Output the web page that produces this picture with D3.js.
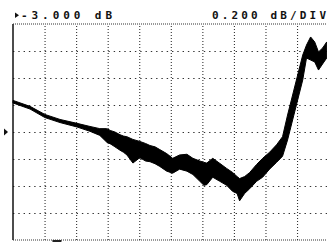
<!DOCTYPE html>
<html>
<head>
<meta charset="utf-8">
<script src="https://cdn.jsdelivr.net/npm/d3@7"></script>
<style>
  html, body { margin: 0; padding: 0; background: #fff; }
  #chart { width: 327px; height: 242px; overflow: hidden; }
  .hdr { font-family: "DejaVu Sans Mono", monospace; font-size: 11px; font-weight: bold; fill: #111; }
</style>
</head>
<body>
<div id="chart"></div>
<script>
const width  = 327;
const height = 242;

// reference level and scale, as printed on the screen
const refLevel = -3.0;      // dB, at the marker (centre line)
const dbPerDiv = 0.2;
const refText = "-3.000 dB";
const scaleText = "0.200 dB/DIV";

// horizontal position of each reading, in divisions (0..10)
const traceDiv = [0, 0.54, 1.01, 1.49, 2.03, 2.44, 2.75, 2.97, 3.10, 3.23, 3.39, 3.50, 3.61, 3.80,
  4.02, 4.20, 4.34, 4.50, 4.65, 4.87, 5.06, 5.28, 5.51, 5.70, 5.92, 6.05, 6.14, 6.33, 6.55, 6.77, 6.96,
  7.10, 7.18, 7.34, 7.50, 7.72, 7.91, 8.13, 8.35, 8.54, 8.70, 8.86, 9.02, 9.18, 9.30, 9.43,
  9.56, 9.68, 9.81, 9.94];
// upper and lower edge of the noisy trace, dB
const traceHi = [-2.766, -2.810, -2.870, -2.907, -2.936, -2.959, -2.975, -2.975, -2.990, -3.000, -3.020, -3.030, -3.035, -3.055,
  -3.070, -3.085, -3.100, -3.110, -3.130, -3.160, -3.195, -3.170, -3.165, -3.195, -3.215, -3.225, -3.230, -3.195, -3.232, -3.270, -3.300,
  -3.330, -3.345, -3.330, -3.300, -3.240, -3.195, -3.150, -3.095, -3.035, -2.874, -2.726, -2.578, -2.430, -2.356, -2.296,
  -2.333, -2.407, -2.378, -2.333];
const traceLo = [-2.785, -2.830, -2.893, -2.930, -2.963, -2.995, -3.025, -3.075, -3.090, -3.110, -3.135, -3.150, -3.170, -3.230,
  -3.190, -3.215, -3.220, -3.235, -3.255, -3.290, -3.305, -3.275, -3.290, -3.315, -3.365, -3.395, -3.390, -3.335, -3.365, -3.395, -3.440,
  -3.455, -3.510, -3.455, -3.420, -3.365, -3.335, -3.275, -3.225, -3.180, -3.059, -2.911, -2.763, -2.615, -2.452, -2.467,
  -2.481, -2.541, -2.496, -2.452];

const x = d3.scaleLinear().domain([0, 10]).range([13, 328.6]);
const y = d3.scaleLinear()
    .domain([refLevel - 4 * dbPerDiv, refLevel + 4 * dbPerDiv])
    .range([240, 24]);

const svg = d3.select("#chart").append("svg")
    .attr("width", width)
    .attr("height", height);

// dotted graticule
const gx = svg.append("g")
    .attr("transform", "translate(0," + y.range()[0] + ")")
    .call(d3.axisBottom(x).tickValues(d3.range(1, 10)).tickSize(-(y.range()[0] - y.range()[1])).tickFormat(""));
gx.select(".domain").remove();
gx.selectAll("line")
    .attr("stroke", "#333")
    .attr("stroke-width", 1.1)
    .attr("stroke-dasharray", "1,2");

const gy = svg.append("g")
    .attr("transform", "translate(" + x.range()[0] + ",0)")
    .call(d3.axisLeft(y).tickValues(d3.range(1, 8).map(i => y.domain()[0] + i * dbPerDiv))
      .tickSize(-(x.range()[1] - x.range()[0])).tickFormat(""));
gy.select(".domain").remove();
gy.selectAll("line")
    .attr("stroke", "#333")
    .attr("stroke-width", 1.1)
    .attr("stroke-dasharray", "1.4,3.9");

// frame
svg.append("line")
    .attr("x1", x.range()[0]).attr("x2", x.range()[0])
    .attr("y1", y.range()[1]).attr("y2", y.range()[0])
    .attr("stroke", "#111").attr("stroke-width", 1.5);
[y.range()[1], y.range()[0]].forEach(yy => {
  svg.append("line")
      .attr("x1", x.range()[0]).attr("x2", x.range()[1])
      .attr("y1", yy).attr("y2", yy)
      .attr("stroke", "#333").attr("stroke-width", 1.2)
      .attr("stroke-dasharray", "1,1");
});

// trace as a filled band between the upper and lower edges
const traceData = traceDiv.map((d, i) => ({ d: d, hi: traceHi[i], lo: traceLo[i] }));
const band = d3.area()
    .x(d => x(d.d))
    .y0(d => y(d.lo))
    .y1(d => y(d.hi));
svg.append("path")
    .datum(traceData)
    .attr("d", band)
    .attr("fill", "#000")
    .attr("stroke", "#000")
    .attr("stroke-width", 1)
    .attr("stroke-linejoin", "round");

// reference marker on the left edge
const ry = y(refLevel);
svg.append("path")
    .attr("d", "M4," + (ry - 3.5) + "L8," + ry + "L4," + (ry + 3.5) + "Z")
    .attr("fill", "#111");

// small marker under the graticule
svg.append("rect")
    .attr("x", x(1.25)).attr("y", 240)
    .attr("width", 9).attr("height", 2)
    .attr("fill", "#222");

// header
svg.append("path")
    .attr("d", "M15,12.5L19,15.2L15,18Z")
    .attr("fill", "#111");
svg.append("text")
    .attr("class", "hdr")
    .attr("x", 21).attr("y", 18.5)
    .attr("textLength", 91).attr("lengthAdjust", "spacing")
    .text(refText);
svg.append("text")
    .attr("class", "hdr")
    .attr("x", 212).attr("y", 18.5)
    .attr("textLength", 114).attr("lengthAdjust", "spacing")
    .text(scaleText);
</script>
</body>
</html>
